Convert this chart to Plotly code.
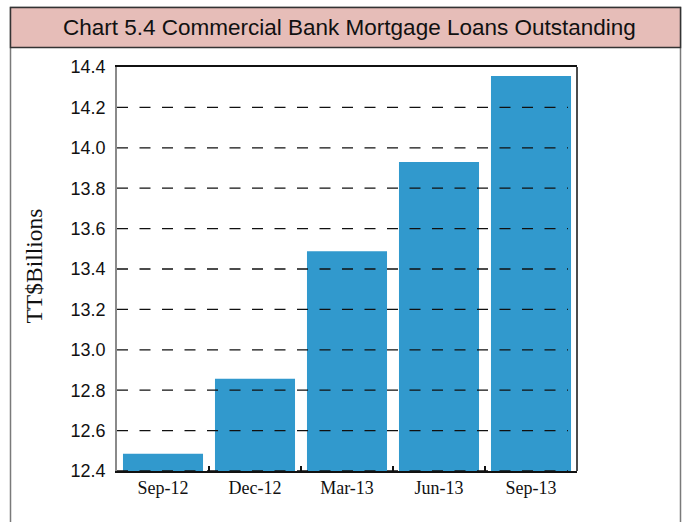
import plotly.graph_objects as go

categories = ["Sep-12", "Dec-12", "Mar-13", "Jun-13", "Sep-13"]
values = [12.485, 12.857, 13.488, 13.93, 14.355]
y_ticks = [12.4, 12.6, 12.8, 13.0, 13.2, 13.4, 13.6, 13.8, 14.0, 14.2, 14.4]
title_text = "Chart 5.4 Commercial Bank Mortgage Loans Outstanding"
y_title = "TT$Billions"

W, H = 687, 522
L, R, T, B = 117, 577, 67, 471
pw, ph = R - L, B - T

def px(x):
    return (x - L) / pw

def py(y):
    return (B - y) / ph

fig = go.Figure()
fig.add_trace(go.Bar(x=categories, y=values, marker=dict(color="#3199cd", line=dict(width=0)),
                     hoverinfo="skip"))

shapes = []
# outer box
shapes.append(dict(type="rect", xref="paper", yref="paper", x0=px(10.5), x1=px(680.5), y0=py(540), y1=py(7.5),
                   line=dict(color="#7a7a7a", width=1.5), fillcolor="rgba(0,0,0,0)", layer="below"))
# title band
shapes.append(dict(type="rect", xref="paper", yref="paper", x0=px(10.5), x1=px(680.5), y0=py(47.5), y1=py(7.5),
                   line=dict(color="#333333", width=1.5), fillcolor="#e6bdb8", layer="below"))
# dashed gridlines above bars
for v in y_ticks[:-1]:
    shapes.append(dict(type="line", xref="paper", yref="y", x0=0, x1=px(568), y0=v, y1=v,
                       line=dict(color="#111111", width=1.3, dash="11px,11.5px"), layer="above"))
# right frame line
shapes.append(dict(type="line", xref="paper", yref="paper", x0=1, x1=1, y0=0, y1=1,
                   line=dict(color="#111111", width=1.5), layer="above"))

annotations = [
    dict(text=title_text, xref="paper", yref="paper", x=px(349), y=py(28), xanchor="center", yanchor="middle",
         showarrow=False, font=dict(family="Liberation Sans, Arial", size=22.5, color="#111111")),
    dict(text=y_title, xref="paper", yref="paper", x=px(33), y=py(266.5), xanchor="center", yanchor="middle",
         textangle=-90, showarrow=False, font=dict(family="Liberation Serif, Times New Roman", size=23.5, color="#111111")),
]

fig.update_layout(
    width=W, height=H,
    margin=dict(l=L, r=W - R, t=T, b=H - B, pad=0),
    paper_bgcolor="white", plot_bgcolor="white",
    showlegend=False, bargap=0.13,
    shapes=shapes, annotations=annotations,
    xaxis=dict(showline=True, linecolor="#111111", linewidth=1.5, mirror=True,
               ticks="inside", tickson="boundaries", ticklen=5, tickcolor="#111111", tickwidth=1.5,
               showgrid=False, zeroline=False,
               tickfont=dict(family="Liberation Serif, Times New Roman", size=18, color="#111111")),
    yaxis=dict(range=[12.4, 14.4], tickvals=y_ticks, ticktext=[f"{v:.1f}" for v in y_ticks],
               showline=True, linecolor="#8a8a8a", linewidth=1.5, ticks="", showgrid=False, zeroline=False,
               ticklabelstandoff=6,
               tickfont=dict(family="Liberation Sans, Arial", size=18, color="#111111")),
)

fig.write_html("out.html", config={"displayModeBar": False},
               post_script="document.body.style.margin='0';document.body.style.padding='0';")
